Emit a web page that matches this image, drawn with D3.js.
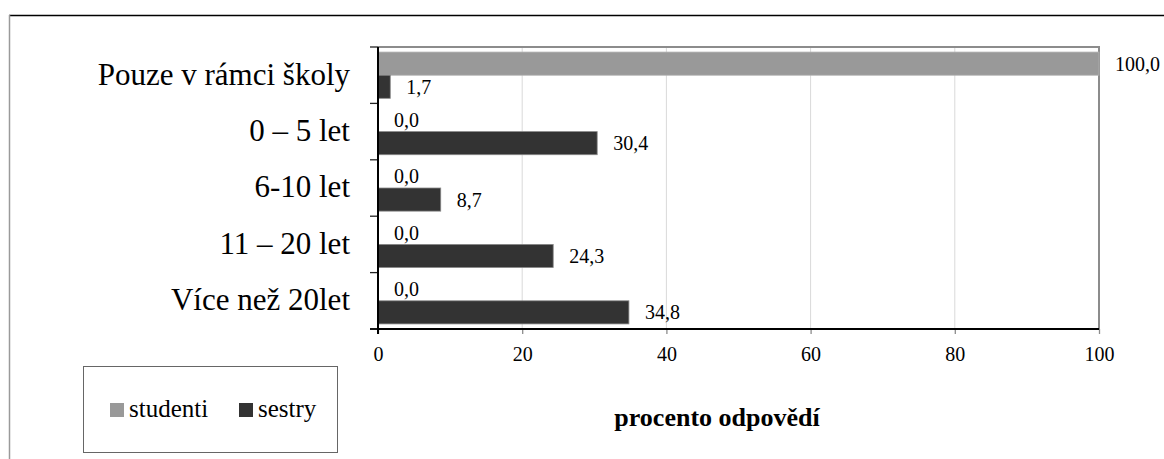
<!DOCTYPE html>
<html>
<head>
<meta charset="utf-8">
<script src="https://cdn.jsdelivr.net/npm/d3@7"></script>
<style>
html,body{margin:0;padding:0;background:#fff;}
svg{display:block;}
svg text{font-family:"Liberation Serif","Tinos","Times New Roman","DejaVu Serif",serif !important;}
</style>
</head>
<body>
<svg id="chart" width="1164" height="459"></svg>
<script>
const categories = ["Pouze v rámci školy", "0 – 5 let", "6-10 let", "11 – 20 let", "Více než 20let"];
const seriesNames = ["studenti", "sestry"];
const studenti = [100.0, 0.0, 0.0, 0.0, 0.0];
const sestry = [1.7, 30.4, 8.7, 24.3, 34.8];
const xTicks = [0, 20, 40, 60, 80, 100];
const colors = ["#999999", "#333333"];
const axisTitle = "procento odpovědí";

const FONT = '"Liberation Serif", "Tinos", "Times New Roman", "DejaVu Serif", serif';
const svg = d3.select("#chart").attr("font-family", FONT);
const L = 378, R = 1099, T = 47, B = 329;

const x = d3.scaleLinear().domain([0, 100]).range([L, R]);
const y = d3.scaleBand().domain(categories).range([T, B]).paddingInner(0.18).paddingOuter(0.09);
const ySub = d3.scaleBand().domain(seriesNames).range([0, y.bandwidth()]);
const fmt = v => v.toFixed(1).replace(".", ",");

// outer frame
svg.append("line").attr("x1", 9).attr("x2", 1164).attr("y1", 15.5).attr("y2", 15.5).attr("stroke", "#000").attr("stroke-width", 1.3);
svg.append("line").attr("x1", 9.5).attr("x2", 9.5).attr("y1", 15).attr("y2", 459).attr("stroke", "#9a9a9a").attr("stroke-width", 1.5);

// gridlines
svg.append("g").selectAll("line").data(xTicks.filter(d => d > 0 && d < 100)).join("line")
  .attr("x1", d => x(d)).attr("x2", d => x(d)).attr("y1", T).attr("y2", B)
  .attr("stroke", "#d9d9d9").attr("stroke-width", 1);

// plot border top/right
svg.append("path").attr("d", `M${L},${T}H${R}V${B}`).attr("fill", "none").attr("stroke", "#8c8c8c").attr("stroke-width", 2);

// bars
const data = [];
categories.forEach((c, i) => {
  data.push({cat: c, s: "studenti", v: studenti[i]});
  data.push({cat: c, s: "sestry", v: sestry[i]});
});
svg.append("g").selectAll("rect").data(data.filter(d => d.v > 0)).join("rect")
  .attr("x", x(0)).attr("y", d => y(d.cat) + ySub(d.s))
  .attr("width", d => x(d.v) - x(0)).attr("height", ySub.bandwidth())
  .attr("fill", d => colors[seriesNames.indexOf(d.s)])
  .attr("stroke", d => d.s === "studenti" ? "#b0b0b0" : "#888")
  .attr("stroke-width", 0.8);

// value labels
svg.append("g").selectAll("text").data(data).join("text")
  .attr("x", d => x(d.v) + 16).attr("y", d => y(d.cat) + ySub(d.s) + ySub.bandwidth() / 2)
  .attr("dy", "0.35em").attr("font-size", 20).attr("fill", "#000")
  .text(d => fmt(d.v));

// x axis
const xAxis = svg.append("g").attr("transform", `translate(0,${B})`)
  .call(d3.axisBottom(x).tickValues(xTicks).tickSize(5).tickPadding(13).tickFormat(d3.format("d")));
xAxis.attr("font-family", FONT);
xAxis.select(".domain").remove();
xAxis.selectAll(".tick line").attr("stroke", "#8c8c8c").attr("stroke-width", 1.3);
xAxis.selectAll(".tick text").attr("font-size", 20).attr("fill", "#000");
svg.append("line").attr("x1", L - 8).attr("x2", R).attr("y1", B).attr("y2", B).attr("stroke", "#000").attr("stroke-width", 2);

// y axis
const boundaries = categories.map(c => y(c) - y.step() * y.paddingInner() / 2);
boundaries[0] = T;
boundaries.push(B);
svg.append("g").selectAll("line").data(boundaries).join("line")
  .attr("x1", L - 8).attr("x2", L).attr("y1", d => d).attr("y2", d => d)
  .attr("stroke", "#222").attr("stroke-width", 1.3);
svg.append("line").attr("x1", L).attr("x2", L).attr("y1", T).attr("y2", B + 5).attr("stroke", "#000").attr("stroke-width", 2);

svg.append("g").selectAll("text").data(categories).join("text")
  .attr("x", 350).attr("y", d => y(d) + y.bandwidth() / 2)
  .attr("dy", "0.3em").attr("text-anchor", "end").attr("font-size", 31).attr("fill", "#000")
  .text(d => d);

// axis title
svg.append("text").attr("x", 717).attr("y", 426).attr("text-anchor", "middle")
  .attr("font-size", 26).attr("font-weight", "bold").attr("fill", "#000").text(axisTitle);

// legend
svg.append("rect").attr("x", 83.5).attr("y", 366.5).attr("width", 254).attr("height", 86)
  .attr("fill", "#fff").attr("stroke", "#666").attr("stroke-width", 1);
const legX = [110, 239];
const leg = svg.append("g").selectAll("g").data(seriesNames).join("g")
  .attr("transform", (d, i) => `translate(${legX[i]},403)`);
leg.append("rect").attr("width", 14).attr("height", 14).attr("fill", (d, i) => colors[i]);
leg.append("text").attr("x", 19).attr("y", 14).attr("font-size", 25).attr("fill", "#000").text(d => d);
</script>
</body>
</html>
